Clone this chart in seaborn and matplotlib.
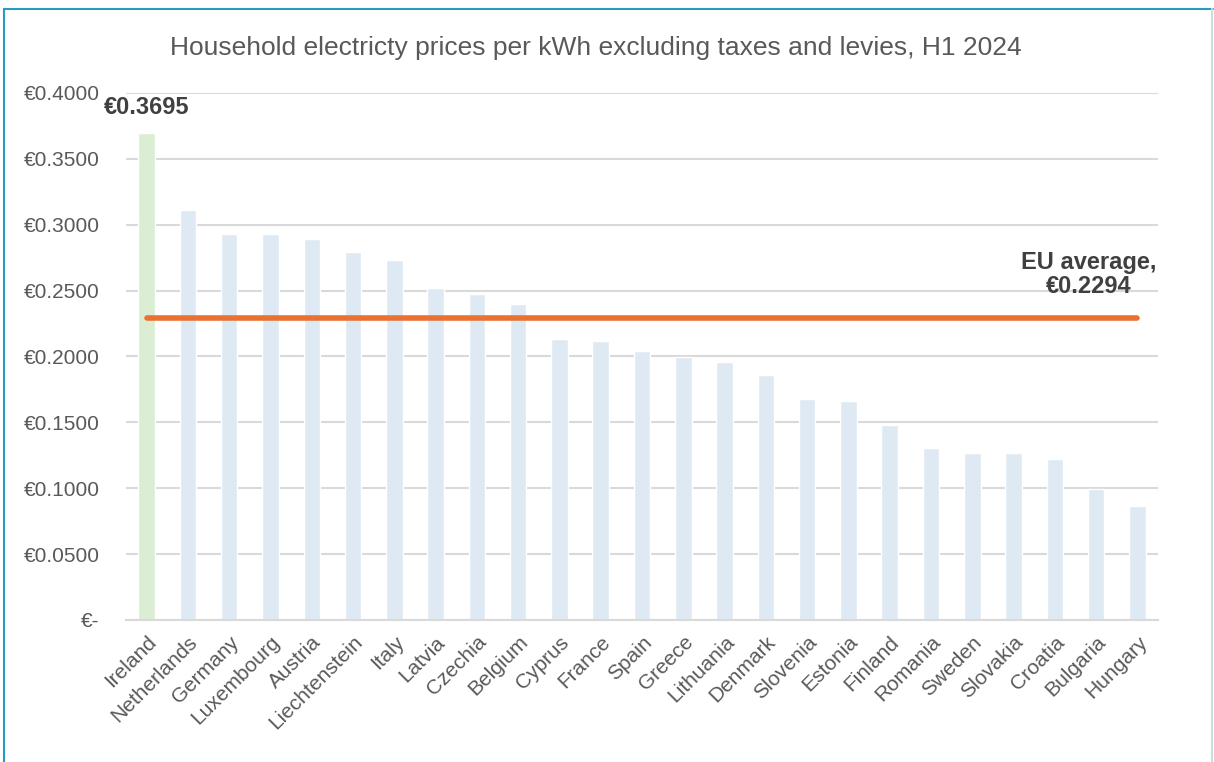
import matplotlib
matplotlib.use('Agg')
import matplotlib.pyplot as plt
from matplotlib.lines import Line2D
import seaborn as sns

countries = ['Ireland', 'Netherlands', 'Germany', 'Luxembourg', 'Austria', 'Liechtenstein',
             'Italy', 'Latvia', 'Czechia', 'Belgium', 'Cyprus', 'France', 'Spain', 'Greece',
             'Lithuania', 'Denmark', 'Slovenia', 'Estonia', 'Finland', 'Romania', 'Sweden',
             'Slovakia', 'Croatia', 'Bulgaria', 'Hungary']
prices = [0.3695, 0.3112, 0.2932, 0.2930, 0.2892, 0.2793, 0.2732, 0.2518, 0.2474, 0.2398,
          0.2133, 0.2120, 0.2040, 0.1999, 0.1958, 0.1860, 0.1680, 0.1662, 0.1480, 0.1306,
          0.1265, 0.1265, 0.1225, 0.0992, 0.0868]
eu_average = 0.2294
y_ticks = [0.0, 0.05, 0.10, 0.15, 0.20, 0.25, 0.30, 0.35, 0.40]
y_tick_labels = ['€-', '€0.0500', '€0.1000', '€0.1500', '€0.2000', '€0.2500',
                 '€0.3000', '€0.3500', '€0.4000']

sns.set_style('white')
plt.rcParams['font.family'] = ['Liberation Sans', 'DejaVu Sans']

fig = plt.figure(figsize=(12.14, 7.62), dpi=100)
ax = fig.add_axes([0.1038, 0.1864, 0.8501, 0.6916])

bar_colors = ['#D9F2D0' if c == 'Ireland' else '#DCE9F6' for c in countries]
sns.barplot(x=countries, y=prices, hue=countries, palette=bar_colors, legend=False,
            width=0.4, ax=ax, zorder=2)

ax.plot(range(len(countries)), [eu_average] * len(countries), color='#E97132',
        lw=4, solid_capstyle='round', zorder=3)

ax.set_ylim(0, 0.4)
ax.set_xlim(-0.5, len(countries) - 0.5)
ax.set_yticks(y_ticks)
ax.set_yticklabels(y_tick_labels)
ax.yaxis.grid(True, color='#D9D9D9', lw=1.5, zorder=0)
ax.set_axisbelow(True)
for s in ['left', 'right', 'top']:
    ax.spines[s].set_visible(False)
ax.spines['bottom'].set_color('#D9D9D9')
ax.spines['bottom'].set_linewidth(1.5)
ax.tick_params(axis='y', length=0, pad=19, labelsize=15, labelcolor='#595959')
ax.tick_params(axis='x', length=0, pad=9, labelsize=15, labelcolor='#595959')
plt.setp(ax.get_xticklabels(), rotation=45, ha='right', rotation_mode='anchor')

ax.text(0, 0.389, '€0.3695', ha='center', va='center', fontsize=17,
        fontweight='bold', color='#404040')
ax.text(22.83, 0.2622, 'EU average,\n€0.2294', ha='center', va='center', fontsize=17,
        fontweight='bold', color='#404040', linespacing=1.1)

fig.text(0.491, 0.937, 'Household electricty prices per kWh excluding taxes and levies, H1 2024',
         ha='center', va='center', fontsize=19, color='#595959')

# frame around the chart
fig.add_artist(Line2D([4 / 1214, 4 / 1214], [0, 1 - 9 / 762], transform=fig.transFigure,
                      color='#2A9BC0', lw=1.5))
fig.add_artist(Line2D([4 / 1214, 1213 / 1214], [1 - 9 / 762, 1 - 9 / 762],
                      transform=fig.transFigure, color='#2A9BC0', lw=1.5))
fig.add_artist(Line2D([1212 / 1214, 1212 / 1214], [0, 1 - 9 / 762], transform=fig.transFigure,
                      color='#C9DDE4', lw=1.5))

fig.savefig('out.png', dpi=100)
